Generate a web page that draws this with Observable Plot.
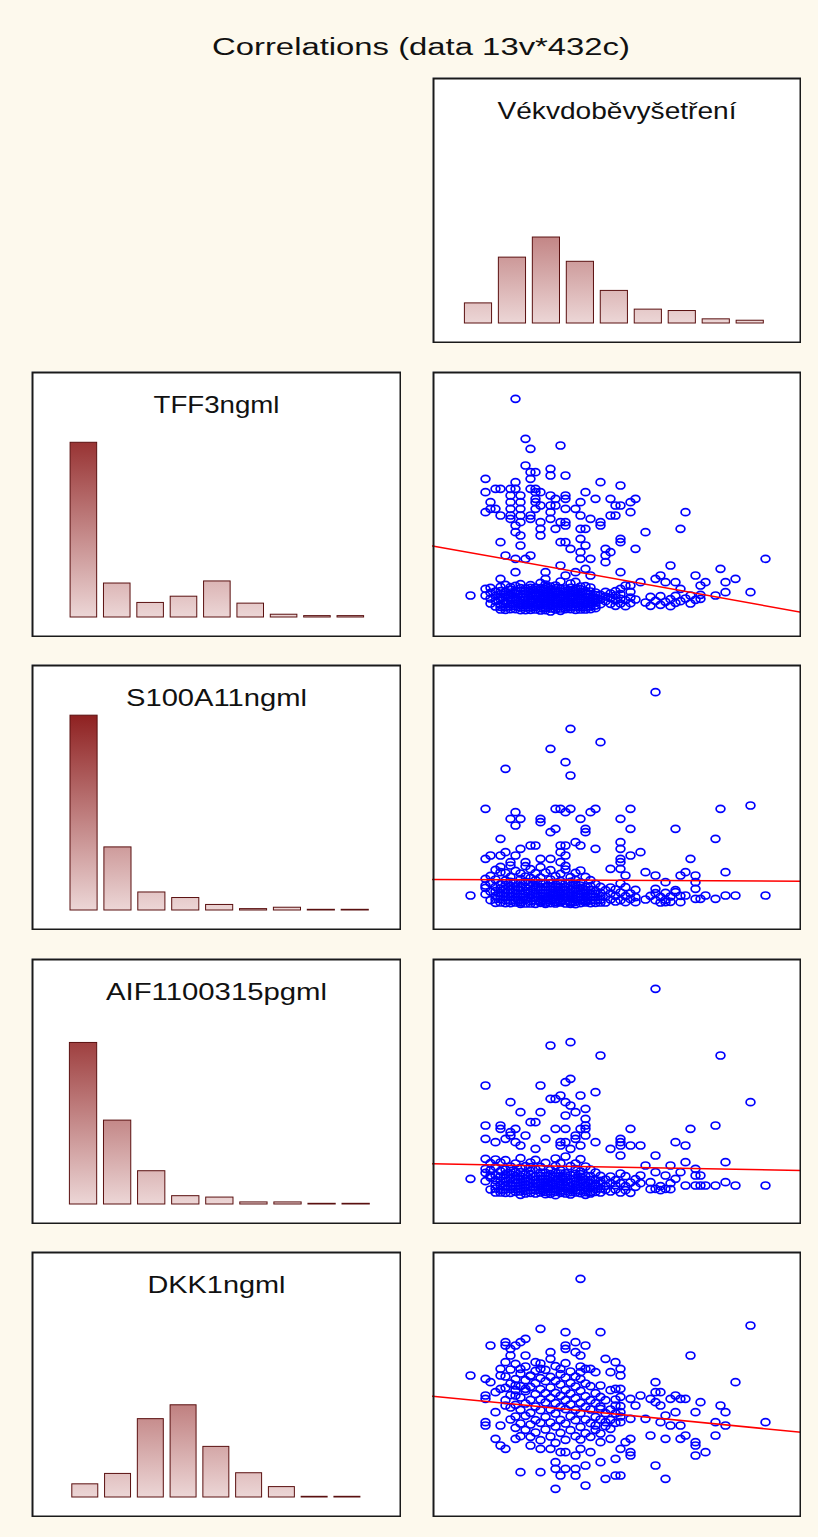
<!DOCTYPE html>
<html>
<head>
<meta charset="utf-8">
<script src="https://cdn.jsdelivr.net/npm/d3@7"></script>
<script src="https://cdn.jsdelivr.net/npm/@observablehq/plot@0.6"></script>
<style>
html, body { margin: 0; padding: 0; background: #fdf9ed; }
#page { position: relative; width: 818px; height: 1537px; background: #fdf9ed; overflow: hidden;
  font-family: "Liberation Sans", Arial, sans-serif; }
#title { position: absolute; left: 12px; top: 35px; width: 818px; text-align: center; font-size: 24.7px;
  line-height: 1; color: #111; transform: scaleX(1.33); transform-origin: center; white-space: nowrap; }
#page svg { position: absolute; }
</style>
</head>
<body>
<div id="page"><div id="title">Correlations (data 13v*432c)</div></div>
<script>
// ---------- labels ----------
const chartTitle = "Correlations (data 13v*432c)";
const varNames = ["Vékvdoběvyšetření", "TFF3ngml", "S100A11ngml", "AIF1100315pgml", "DKK1ngml"];

// ---------- histogram counts (9 bins each, 432 cases) ----------
const ageCounts  = [29, 95, 124, 89, 47, 20, 18, 6, 4];
const tff3Counts = [252, 49, 21, 30, 52, 20, 4, 2, 2];
const s100Counts = [281, 91, 26, 18, 8, 2, 4, 1, 1];
const aifCounts  = [233, 121, 48, 12, 10, 3, 3, 1, 1];
const dkkCounts  = [19, 34, 113, 133, 73, 35, 15, 1, 1];

// ---------- scatter data: [age, value] (isolated points) and [age, values...] (dense columns) ----------
const tff3Points = [[29,64],[31,52],[32,49],[38,50],[31,44],[32,42],[33,42],[32,40],[36,43],[36,41],[39,41],[23,40],[46,39],[50,38],[29,39],[23,36],[25,37],[26,37],[28,37],[29,37],[32,37],[33,36],[33,37],[34,36],[43,36],[45,34],[48,34],[28,35],[30,35],[33,34],[36,35],[37,34],[39,35],[39,34],[49,32],[50,32],[52,33],[53,34],[24,33],[23,30],[24,31],[25,31],[26,29],[28,33],[28,31],[28,29],[30,33],[30,31],[30,29],[33,33],[33,31],[32,29],[32,28],[34,32],[36,32],[37,32],[36,30],[36,28],[39,31],[41,31],[42,33],[42,29],[44,28],[46,27],[46,26],[48,29],[49,29],[52,30],[63,30],[62,25],[55,24],[28,28],[29,26],[30,27],[29,24],[30,23],[34,27],[34,25],[34,23],[37,25],[38,27],[39,27],[39,26],[42,25],[43,25],[26,21],[30,20],[38,21],[39,21],[40,19],[42,22],[43,20],[50,22],[50,21],[53,19],[47,19],[48,18],[47,17],[47,15],[42,18],[42,16],[44,16],[27,17],[29,16],[31,16],[32,17],[29,12],[38,14],[35,12],[35,10],[26,10],[79,16],[60,14],[65,11],[70,13],[71,9],[73,10],[76,6],[67,9],[66,8],[50,12],[54,9],[57,10],[58,11],[59,9],[61,9],[62,7],[39,11],[41,12],[43,13],[44,11],[51,8],[52,8],[20,5],[23,5],[23,7],[69,5],[71,6],[66,4],[64,5]];
const tff3Columns = [[24,2.6,4.1,5.8,7.3],[25,1.7,3.4,4.9,6.2],[26,0.8,2.3,3.9,5.4,7.6],[27,1.5,3.1,4.6,6.1,8.2],[28,0.9,2.4,3.7,5.2,6.8],[29,1.8,3.3,4.5,6.4,7.9],[30,0.6,2.1,3.6,4.8,6.3,8.4],[31,1.4,2.9,4.4,5.6,7.1],[32,0.7,2.2,3.5,5.0,6.6,8.1],[33,1.6,3.0,4.7,5.9,7.4],[34,0.5,2.0,3.2,4.3,5.7,7.2,8.8],[35,1.3,2.7,4.0,5.5,6.9,8.3],[36,0.2,1.9,3.4,4.6,6.0,7.7],[37,0.8,2.5,3.8,5.3,6.5,8.0],[38,1.1,2.6,4.2,5.4,7.0,9.2],[39,0.9,2.2,3.6,5.1,6.4],[40,1.6,3.0,4.5,5.8,7.3,8.6],[41,0.7,2.4,3.9,5.6,7.0,9.1],[42,1.5,2.8,4.2,5.3,6.9],[43,0.8,2.3,3.7,5.5,7.8],[44,1.7,3.1,4.6,6.2,7.4],[45,1.2,2.9,4.3,5.9],[46,2.4,3.8,5.2],[47,3.3,4.7,6.1],[48,2.5,4.2,5.6],[49,1.9,3.5,5.0,6.3],[50,2.6,4.0,5.4,7.0],[51,1.8,3.6],[52,2.7,4.4,6.1],[53,3.8],[55,2.9],[56,1.9,4.6],[57,3.4],[58,2.2,4.8],[59,3.1],[60,1.8,3.9],[61,2.8,4.9],[62,3.3],[63,4.1],[64,2.6],[65,3.7],[66,5.2],
  [26,1.6,4.6,6.3],[27,0.7,2.4,5.3],[28,1.7,4.4,5.9,7.5],[29,0.9,2.6,4.0,5.6],[30,1.4,2.8,5.5,7.2],[31,0.6,2.1,3.7,6.3],[32,1.4,2.9,4.2,5.8,7.3],[33,0.8,2.3,3.9,5.2,6.6],[34,1.2,2.6,3.8,5.0,6.4],[35,0.6,2.0,3.3,4.7,6.1,7.5],[36,1.1,2.6,4.0,5.3,6.8],[37,1.6,3.1,4.5,5.9,7.2],[38,0.4,1.8,3.4,4.8,6.2],[39,1.5,2.9,4.3,5.8,7.1],[40,0.9,2.3,3.8,5.1,6.5],[41,1.6,3.1,4.7,6.3],[42,0.8,2.1,3.5,6.1,7.7],[43,1.5,3.0,4.6,6.3],[44,0.9,2.4,3.9,5.4],[45,2.0,3.6,5.1]];

const s100Points = [[57,65],[40,54],[36,48],[46,50],[39,44],[40,40],[27,42],[23,30],[29,29],[28,27],[30,27],[29,25],[26,21],[34,27],[34,26],[36,23],[37,24],[37,30],[38,30],[39,29],[40,30],[42,27],[44,29],[45,30],[43,24],[43,23],[50,27],[52,30],[52,24],[61,24],[70,30],[76,31],[69,21],[71,11],[64,15],[54,17],[52,16],[50,20],[50,18],[50,15],[50,14],[48,12],[50,12],[41,20],[42,19],[45,18],[38,19],[39,19],[39,16],[38,17],[30,18],[32,19],[33,19],[23,15],[24,16],[26,16],[27,17],[29,16],[28,14],[28,13],[31,14],[34,15],[36,15],[38,14],[26,11],[23,9],[23,7],[20,4],[55,11],[57,10],[51,10],[57,6],[59,8],[62,10],[63,11],[65,10],[65,8],[65,6],[61,5],[63,4],[65,3],[66,3],[67,4],[69,3],[71,4],[73,4],[79,4],[59,2],[62,2],[53,2],[30,2]];
const s100Columns = [[23,4.4,6.3],[24,2.6,5.2,7.7,9.9],[25,1.8,3.9,6.6,8.8,11.7],[26,2.9,4.7,7.4,12.6],[27,1.7,3.6,5.9,8.5,10.8],[28,2.4,4.8,6.9,9.6],[29,1.9,3.3,5.6,7.8,11.4],[30,1.5,2.7,4.5,6.4,8.9,10.6],[31,1.6,3.8,5.3,9.7,12.8],[32,2.3,4.1,6.8,7.9,11.9],[33,1.5,3.5,5.8,7.1,8.6,10.7],[34,1.8,2.9,4.6,6.5,9.4,12.5],[35,1.9,2.5,3.7,5.5,7.6,10.9],[36,1.7,3.2,4.9,6.7,8.8,11.6],[37,2.1,2.8,4.2,5.7,7.3,9.8],[38,1.9,2.6,3.9,5.0,6.6,8.4,10.5],[39,1.6,3.4,5.6,7.7,11.8,12.9],[40,1.5,2.2,3.1,4.7,6.9,8.1,9.5],[41,1.4,2.8,4.3,5.9,8.7,10.8],[42,1.7,4.6,6.3,7.9,11.5],[43,1.9,2.7,3.8,5.7,9.6],[44,2.5,4.4,6.8,8.6],[45,1.8,3.6,5.4,7.5],[46,2.7,4.8,6.6],[47,1.9,3.7,5.6],[48,2.8,4.6,6.4],[49,2.2,3.9,5.8],[50,2.6,4.9,7.6],[51,2.0,3.8,6.5],[52,2.9,4.6],[53,3.5,5.7],[55,2.8],[56,3.9],[57,2.6,4.7],[58,1.9,3.6],[59,2.7,4.8],[60,2.1,3.7],[61,5.6],[62,3.9],
  [25,2.9,5.3],[26,1.9,3.8,6.1],[27,2.6,4.7,7.2],[28,1.7,3.6,5.8,8.1],[29,2.6,4.5,6.7],[30,2.0,3.6,5.5,7.7],[31,2.7,4.6,6.6,8.1],[32,1.6,3.2,5.4,9.3],[33,2.5,4.6,6.4],[34,2.2,3.8,5.6,7.8],[35,1.5,3.1,4.6,6.6],[36,2.5,4.1,5.8,7.7],[37,1.6,3.5,4.9,6.5],[38,2.2,3.2,4.5,5.8,7.5],[39,2.5,4.5,6.6],[40,1.9,3.9,5.8],[41,2.1,3.6,5.1,7.3],[42,2.6,3.5,5.5,7.0],[43,2.3,3.3,4.8,6.6],[44,1.7,3.5,5.6],[45,2.6,4.5],[46,1.9,3.8]];

const aifPoints = [[57,63],[36,46],[40,47],[46,43],[70,43],[76,29],[23,34],[34,34],[39,35],[40,36],[42,31],[45,32],[28,29],[36,30],[37,30],[38,31],[39,29],[40,28],[30,26],[34,26],[41,26],[43,27],[39,25],[32,23],[33,23],[43,24],[43,22],[43,21],[26,22],[26,21],[23,22],[29,21],[28,20],[28,19],[37,21],[39,21],[41,19],[42,21],[41,18],[43,19],[45,17],[52,21],[52,16],[54,16],[50,18],[50,17],[50,16],[48,15],[50,13],[64,21],[69,22],[61,17],[63,16],[57,13],[55,10],[60,10],[63,11],[65,9],[71,11],[66,7],[65,7],[62,8],[56,5],[57,8],[59,7],[61,6],[63,4],[65,4],[66,4],[67,4],[69,4],[71,5],[73,4],[79,4],[57,3],[59,3],[20,6],[23,9],[23,12],[24,7],[25,17],[23,18],[27,18],[29,17],[31,19],[30,16],[33,15],[35,18],[38,17],[38,16],[39,17],[40,15],[42,16],[54,7]];
const aifColumns = [[23,5.3,7.8],[24,2.8,6.4,8.6,10.7],[25,1.9,4.2,7.1,9.6,11.8],[26,2.7,5.4,8.3,10.9],[27,1.8,3.9,6.2,8.8,11.6],[28,2.9,4.6,7.3,9.7],[29,2.1,3.7,5.8,8.1,10.6],[30,1.2,3.1,4.9,6.7,9.3,12.2],[31,2.4,4.3,6.1,9.8],[32,2.6,4.8,7.2,8.4,10.9],[33,1.6,3.5,5.7,8.9,11.7],[34,1.9,3.2,4.7,6.9,9.6],[35,1.4,2.8,4.1,5.9,7.8,10.8],[36,2.2,3.8,5.3,7.4,8.7],[37,1.1,2.9,5.6,7.9,9.9,12.1],[38,1.8,3.3,4.4,5.2,6.8,8.6,10.7],[39,2.3,3.9,6.4,7.7,12.7],[40,1.3,2.7,4.8,7.1,9.8],[41,1.9,3.4,4.3,6.2,8.9,10.6],[42,2.4,4.9,6.6,8.2,11.9],[43,1.2,2.6,4.1,5.8,9.7],[44,2.1,4.7,6.8,8.8],[45,2.9,4.4,5.7,7.9],[46,1.9,4.6,6.9],[47,2.7,3.9,5.8],[48,2.2,4.8,6.7],[49,2.8,4.1,5.6],[50,1.9,4.7,7.6],[51,2.6,3.8,6.8],[52,1.8,4.9],[53,3.6,5.9],[54,4.7],[56,2.9],[58,2.6,3.8],[60,2.9,4.7],
  [25,3.1,5.6],[26,1.9,4.1,6.7],[27,2.8,5.1,7.4],[28,1.8,3.8,6.1,8.4],[29,2.9,4.7,6.9],[30,2.2,4.0,5.8,8.0],[31,1.6,3.4,5.2,7.3],[32,1.8,3.6,5.9,9.5],[33,2.6,4.6,6.8],[34,2.6,4.0,5.8,7.9],[35,2.1,3.5,5.1,6.8],[36,1.5,3.0,4.6,6.3],[37,2.1,4.2,6.7],[38,2.5,3.9,6.0,7.6],[39,1.6,3.1,5.1,7.0],[40,2.0,3.8,5.9],[41,2.6,5.2,7.5],[42,1.7,3.6,5.7,7.4],[43,2.0,3.4,4.9,6.8],[44,1.6,3.3,5.6],[45,2.1,3.7],[46,3.1,5.4]];

const dkkPoints = [[42,69],[76,55],[64,46],[73,38],[79,26],[34,54],[39,53],[46,53],[24,49],[27,50],[27,49],[28,48],[29,49],[30,50],[31,51],[39,49],[39,48],[41,50],[41,47],[43,49],[42,46],[36,47],[31,46],[28,46],[27,44],[20,40],[23,39],[24,38],[26,42],[26,40],[23,34],[23,33],[25,35],[26,36],[27,31],[25,29],[23,26],[23,25],[26,25],[25,21],[26,19],[27,18],[30,11],[34,11],[37,14],[37,12],[38,10],[39,12],[41,12],[41,10],[43,13],[43,7],[37,6],[46,14],[47,9],[49,10],[50,10],[49,15],[52,17],[52,16],[50,18],[51,20],[52,21],[57,13],[59,9],[56,22],[59,21],[62,21],[63,22],[65,20],[65,19],[65,16],[67,17],[69,22],[69,26],[71,25],[71,29],[70,31],[66,32],[65,29],[61,29],[59,28],[58,26],[60,25],[62,25],[57,38],[57,35],[58,35],[57,32],[58,31],[60,33],[61,34],[62,33],[63,33],[56,33],[54,34],[52,33],[53,31],[55,27],[47,45],[49,44],[50,42],[50,40],[48,41],[49,36],[50,36],[46,37],[45,41],[44,42],[43,42],[42,41],[42,39],[38,42],[36,45],[34,42],[33,44],[32,40],[30,42],[29,37],[31,36],[29,34],[46,30],[45,25],[49,31],[50,29],[50,26],[47,26],[48,24],[52,27],[29,21],[32,19],[34,18],[36,18],[38,17],[39,17],[41,16],[42,18],[44,17],[46,20],[48,21]];
const dkkColumns = [[27,32.6,36.3,39.7],[28,26.8,30.4,34.1,37.6,41.8],[29,24.3,27.7,31.2,35.6,38.9,43.5],[30,21.8,25.6,29.7,33.4,36.8,40.6],[31,23.7,27.9,31.6,35.3,38.6,42.7],[32,21.6,25.3,28.8,32.7,36.6,39.8],[33,22.9,26.6,30.7,34.4,37.7,41.4],[34,20.6,25.8,29.6,32.8,35.9,39.2,43.6],[35,23.8,27.6,31.9,34.7,38.3,41.7],[36,21.7,25.9,29.8,33.3,36.4,39.6],[37,19.8,24.7,28.6,31.7,34.8,38.4,42.8],[38,22.8,26.7,30.6,33.9,37.3,40.4],[39,20.7,25.6,29.9,32.6,35.7,39.4,43.7],[40,23.6,27.8,31.3,34.6,37.8,41.2],[41,21.8,26.6,29.7,33.2,36.7,39.7],[42,20.8,24.6,28.7,31.8,35.4,42.7],[43,22.7,26.8,30.6,33.8,37.6],[44,21.6,25.7,29.8,32.6,36.8],[45,23.7,27.6,31.7,34.7],[46,22.6,26.8,30.7,33.6],[47,24.8,28.7,32.6],[48,26.7,29.8,35.6],[49,25.8,28.6,32.8],[50,27.7,30.8,33.6]];

// ---------- fitted regression lines (value = intercept + slope * age) ----------
const fitIntercept = [23.23, 8.88, 10.83, 35.6];
const fitSlope     = [-0.270, -0.0068, -0.0271, -0.1466];

// ---------- layout ----------
const ageDomain = [12.4, 86.2];
const valueDomains = [[-7.6, 72.2], [-6.5, 73.3], [-7.7, 72.1], [-2.6, 77.2]];
const rowTops = [77, 371, 664, 958, 1251];
const leftX = 31, rightX = 432, panelH = 266;
const FONT = '"Liberation Sans", Arial, sans-serif';

const page = document.getElementById("page");

function place(svg, left, top) {
  svg.style.left = left + "px";
  svg.style.top = top + "px";
  svg.style.background = "white";
  svg.style.maxWidth = "none";
  page.appendChild(svg);
}

function histogram(id, label, counts, xRange, labelWidth, width, left, top) {
  const bins = counts.map((c, i) => ({bin: i, count: c}));
  const svg = Plot.plot({
    width, height: panelH, margin: 0,
    style: {fontFamily: FONT, background: "white"},
    x: {domain: [0, counts.length], range: xRange, axis: null},
    y: {domain: [0, 300], range: [246, 38], axis: null},
    marks: [
      Plot.rectY(bins, {x1: d => d.bin, x2: d => d.bin + 1, y: "count", insetLeft: 3.4, insetRight: 3.4,
        fill: `url(#${id})`, stroke: "#5a1010", strokeWidth: 1}),
      Plot.text([label], {frameAnchor: "top", dy: 41.5, lineAnchor: "bottom", fontSize: 23.7,
        fill: "#111", fontFamily: FONT}),
      Plot.frame({stroke: "#1a1a1a", strokeWidth: 2, inset: 1})
    ]
  });
  const s = d3.select(svg);
  const grad = s.insert("defs", ":first-child").append("linearGradient")
    .attr("id", id).attr("gradientUnits", "userSpaceOnUse")
    .attr("x1", 0).attr("x2", 0).attr("y1", 246).attr("y2", 46);
  grad.append("stop").attr("offset", 0).attr("stop-color", "#ecd6d6");
  grad.append("stop").attr("offset", 1).attr("stop-color", "#8c1c1c");
  s.selectAll("text").attr("textLength", labelWidth).attr("lengthAdjust", "spacingAndGlyphs");
  place(svg, left, top);
}

const ellipse = {
  draw(ctx) {
    const rx = 4.4, ry = 3.5, k = 0.5523;
    ctx.moveTo(rx, 0);
    ctx.bezierCurveTo(rx, ry * k, rx * k, ry, 0, ry);
    ctx.bezierCurveTo(-rx * k, ry, -rx, ry * k, -rx, 0);
    ctx.bezierCurveTo(-rx, -ry * k, -rx * k, -ry, 0, -ry);
    ctx.bezierCurveTo(rx * k, -ry, rx, -ry * k, rx, 0);
    ctx.closePath();
  }
};

function scatter(points, columns, k, left, top) {
  const all = points.concat(columns.flatMap(([a, ...vs]) => vs.map(v => [a, v])));
  const fit = ageDomain.map(a => ({age: a, value: fitIntercept[k] + fitSlope[k] * a}));
  const svg = Plot.plot({
    width: 369, height: panelH, margin: 0,
    style: {fontFamily: FONT, background: "white"},
    x: {domain: ageDomain, range: [0, 369], axis: null},
    y: {domain: valueDomains[k], range: [panelH, 0], axis: null},
    marks: [
      Plot.dot(all, {x: d => d[0], y: d => d[1], symbol: ellipse, r: 4, stroke: "#0000ff",
        strokeWidth: 1.7, fill: "none"}),
      Plot.line(fit, {x: "age", y: "value", stroke: "#ff0000", strokeWidth: 1.5}),
      Plot.frame({stroke: "#1a1a1a", strokeWidth: 2, inset: 1})
    ]
  });
  place(svg, left, top);
}

// top-right: age histogram
histogram("g0", varNames[0], ageCounts, [29, 334.7], 239, 369, rightX, rowTops[0]);
// left column histograms
histogram("g1", varNames[1], tff3Counts, [35.7, 336], 126, 370, leftX, rowTops[1]);
histogram("g2", varNames[2], s100Counts, [35.6, 340.7], 181, 370, leftX, rowTops[2]);
histogram("g3", varNames[3], aifCounts, [35, 341.7], 221, 370, leftX, rowTops[3]);
histogram("g4", varNames[4], dkkCounts, [37.4, 332.3], 138, 370, leftX, rowTops[4]);
// right column scatter plots
scatter(tff3Points, tff3Columns, 0, rightX, rowTops[1]);
scatter(s100Points, s100Columns, 1, rightX, rowTops[2]);
scatter(aifPoints, aifColumns, 2, rightX, rowTops[3]);
scatter(dkkPoints, dkkColumns, 3, rightX, rowTops[4]);
</script>
</body>
</html>
